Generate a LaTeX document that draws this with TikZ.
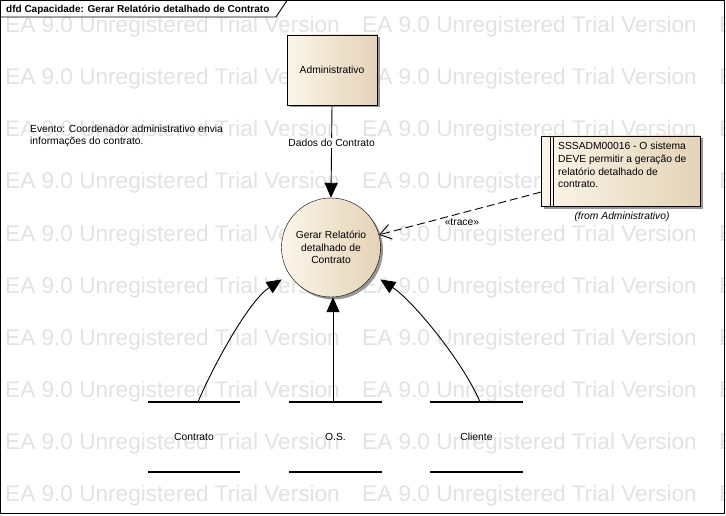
\documentclass[tikz,border=0pt]{standalone}
\usepackage{fontspec}
\setmainfont{Liberation Sans}
\usetikzlibrary{arrows.meta,shadows,calc}
\definecolor{wmgray}{RGB}{226,226,226}
\definecolor{fillL}{RGB}{251,245,233}
\definecolor{fillR}{RGB}{228,211,183}
\definecolor{shadowc}{RGB}{150,150,150}
\begin{document}
\begin{tikzpicture}[x=1pt,y=-1pt,
  txt/.style={font=\fontsize{10.3}{12.7}\selectfont, inner sep=0pt},
  wm/.style={font=\fontsize{22.6}{26}\selectfont, text=wmgray, inner sep=0pt, anchor=base west},
  shade/.style={left color=fillL, right color=fillR, shading angle=90},
  sh/.style={general shadow={fill=shadowc, shadow xshift=2.5pt, shadow yshift=-2.5pt}},
  procbox/.style={draw, shade, sh, rectangle, minimum width=90pt, minimum height=70pt, inner sep=0pt, txt, align=center},
  proccirc/.style={draw, shade, sh, circle, minimum size=99pt, inner sep=0pt, txt, align=center},
  notebox/.style={draw, shade, sh, rectangle, minimum width=159pt, minimum height=70pt, inner sep=0pt},
  storebox/.style={minimum width=92pt, minimum height=70pt, inner sep=0pt, txt},
  storeline/.style={line width=1.6pt},
  flow/.style={line width=0.9pt, -{Triangle[length=15pt,width=13pt]}},
  tracearr/.style={line width=0.9pt, dash pattern=on 8pt off 4pt, -{Straight Barb[length=11pt,width=15pt]}}
]
\useasboundingbox (0,0) rectangle (726,516);
% watermark
\begin{scope}
\clip (0,0) rectangle (726,516);
\foreach \r in {0,...,9}{
  \foreach \c in {5,362,719}{
    \node[wm] at (\c,{33+52*\r}) {EA 9.0 Unregistered Trial Version};
  }
}
\end{scope}
% frame
\draw[line width=0.9pt] (0.5,0.5) rectangle (724.5,513.5);
\draw[line width=0.9pt, fill=white] (0.5,0.5) -- (0.5,17) -- (276,17) -- (287,0.5) -- cycle;
\node[anchor=west, inner sep=0pt, font=\fontsize{10}{12}\selectfont\bfseries] (title) at (6,9.5) {dfd Capacidade: Gerar Relatório detalhado de Contrato};
% nodes
\node[procbox] (adm) at (332,70) {Administrativo};
\node[proccirc] (proc) at (331,247.5) {Gerar Relatório\\detalhado de\\Contrato};
\node[notebox] (note) at (620.5,171) {};
\draw ([xshift=9pt]note.north west) -- ([xshift=9pt]note.south west)
      ([xshift=12pt]note.north west) -- ([xshift=12pt]note.south west);
\node[txt, anchor=north west, align=left] (notetext) at (558,142) {SSSADM00016 - O sistema\\DEVE permitir a geração de\\relatório detalhado de\\contrato.};
\node[txt, font=\fontsize{10.3}{12.7}\selectfont\itshape] (from) at (622,217) {(from Administrativo)};
\node[txt, anchor=north west, align=left] (event) at (30,124.5) {Evento: Coordenador administrativo envia\\informações do contrato.};
% stores
\node[storebox] (s1) at (194,437) {Contrato};
\node[storebox] (s2) at (335.5,437) {O.S.};
\node[storebox] (s3) at (476.5,437) {Cliente};
\foreach \s in {s1,s2,s3}{
  \draw[storeline] (\s.north west) -- (\s.north east) (\s.south west) -- (\s.south east);
}
% connectors
\draw[flow] (adm.south) -- node[txt, fill=white, inner sep=1.5pt, pos=0.41] (lbl) {Dados do Contrato} (proc.north);
\coordinate (s1a) at ([xshift=4pt]s1.north);
\coordinate (s2a) at ([xshift=-2.5pt]s2.north);
\coordinate (s3a) at ([xshift=3.5pt]s3.north);
\draw[flow, shorten >=9pt] (s1a) .. controls (216,360) and (250,300) .. (proc);
\draw[flow] (s2a) -- (s2a |- proc.south);
\draw[flow, shorten >=9pt] (s3a) .. controls (462,360) and (412,300) .. (proc);
\coordinate (ntr) at ($(note.north west)!0.8!(note.south west)$);
\draw[tracearr] (ntr) -- node[txt, pos=0.5, yshift=-9pt, xshift=2pt] (trlbl) {«trace»} (proc);
\end{tikzpicture}
\end{document}
